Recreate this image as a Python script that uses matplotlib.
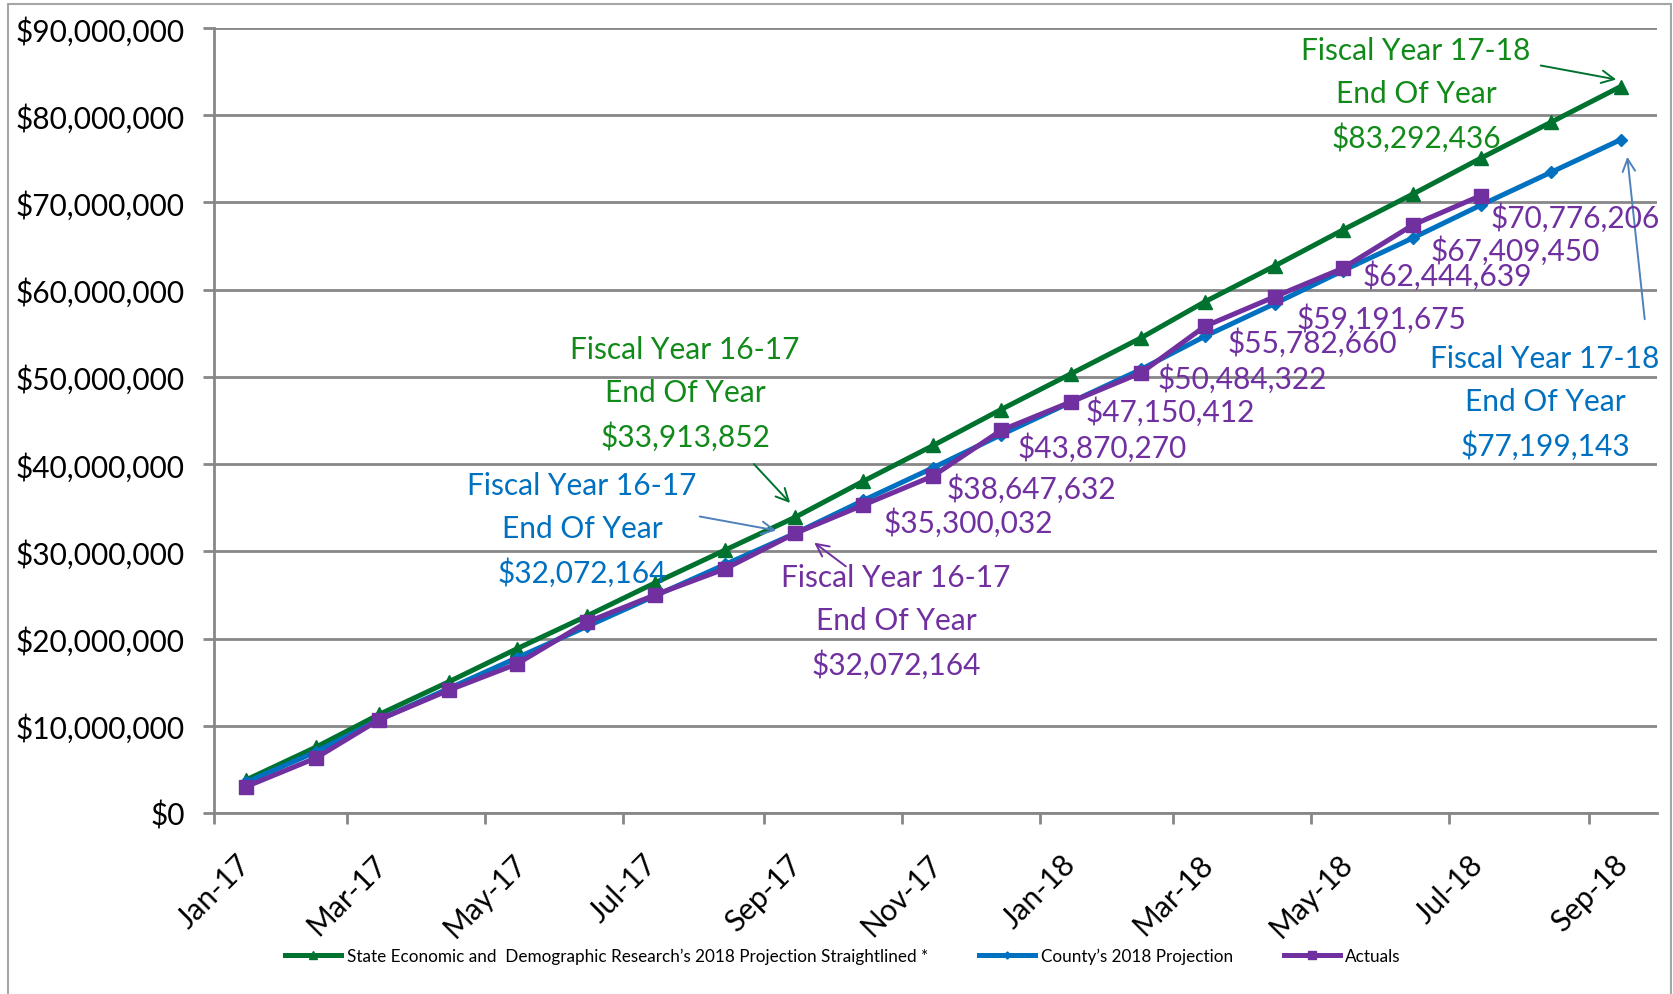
import matplotlib
matplotlib.use("Agg")
import matplotlib.pyplot as plt
import matplotlib.dates as mdates
from matplotlib.ticker import FuncFormatter
from matplotlib.patches import Rectangle
import pandas as pd

plt.rcParams['font.family'] = ['Lato', 'DejaVu Sans']

# monthly points, plotted mid-month
months = pd.date_range('2017-01-01', '2018-09-01', freq='MS') + pd.Timedelta(days=14)

state_proj = [3770000, 7540000, 11300000, 15070000, 18840000, 22610000, 26380000,
              30150000, 33913852, 38030000, 42140000, 46260000, 50370000, 54490000,
              58600000, 62720000, 66830000, 70950000, 75060000, 79180000, 83292436]
county_proj = [3500000, 7000000, 10700000, 14300000, 17800000, 21400000, 24900000,
               28500000, 32072164, 35830000, 39590000, 43360000, 47120000, 50880000,
               54640000, 58400000, 62160000, 65920000, 69680000, 73440000, 77199143]
actuals = [3000000, 6300000, 10700000, 14100000, 17100000, 21900000, 25000000,
           28000000, 32072164, 35300032, 38647632, 43870270, 47150412, 50484322,
           55782660, 59191675, 62444639, 67409450, 70776206]

legend_labels = ["State Economic and  Demographic Research\u2019s 2018 Projection Straightlined *",
                 "County\u2019s 2018 Projection",
                 "Actuals"]

GREEN = '#00722F'
BLUE = '#0070C0'
PURPLE = '#7030A0'
GRID = '#878787'
FS = 21.5

W, H = 1673, 995
fig = plt.figure(figsize=(W / 100, H / 100), dpi=100)
ax = fig.add_axes([214 / W, 1 - 814 / H, (1657 - 214) / W, (814 - 29) / H])


def px(x, y):
    # pixel position (top-left origin) -> figure fraction
    return (x / W, 1 - y / H)


# outer chart border
fig.patches.append(Rectangle(px(8, 1000), (1671 - 8) / W, (1000 - 5) / H, transform=fig.transFigure,
                             fill=False, edgecolor='#A6A6A6', linewidth=1.5))

l1, = ax.plot(months, state_proj, color=GREEN, lw=3.6, marker='^', ms=10, zorder=3,
              label=legend_labels[0])
l2, = ax.plot(months, county_proj, color=BLUE, lw=3.6, marker='D', ms=6, zorder=4,
              label=legend_labels[1])
l3, = ax.plot(months[:len(actuals)], actuals, color=PURPLE, lw=3.6, marker='s', ms=10, zorder=5,
              label=legend_labels[2])

ax.set_ylim(0, 90000000)
ax.set_xlim(pd.Timestamp('2017-01-01'), pd.Timestamp('2018-10-01'))
ax.yaxis.set_major_locator(plt.MultipleLocator(10000000))
ax.yaxis.set_major_formatter(FuncFormatter(lambda v, p: '${:,.0f}'.format(v)))
ax.xaxis.set_major_locator(mdates.MonthLocator(bymonth=[1, 3, 5, 7, 9, 11]))
ax.xaxis.set_major_formatter(mdates.DateFormatter('%b-%y'))
ax.grid(axis='y', color=GRID, lw=2)
ax.set_axisbelow(True)
for s in ['top', 'right']:
    ax.spines[s].set_visible(False)
for s in ['left', 'bottom']:
    ax.spines[s].set_color(GRID)
    ax.spines[s].set_linewidth(2)
ax.tick_params(axis='both', color=GRID, width=2, length=8, labelsize=FS)
ax.tick_params(axis='y', pad=13)
ax.tick_params(axis='x', pad=18)
plt.setp(ax.get_xticklabels(), rotation=45, ha='center')

# value labels for actuals from Oct-17 on
label_offsets = [(105, -17), (98, -12), (101, -17), (99, -9), (101, -5),
                 (108, -15), (107, -21), (105, -7), (103, -25), (95, -21)]
for i, (dx, dy) in zip(range(9, len(actuals)), label_offsets):
    ax.annotate('${:,.0f}'.format(actuals[i]), (months[i], actuals[i]), xytext=(dx, dy),
                textcoords='offset pixels', ha='center', va='center', color=PURPLE,
                fontsize=FS, annotation_clip=False, zorder=6)


# fiscal year callouts
def callout(x, y, text, color):
    fig.text(*px(x, y), text, color=color, fontsize=FS, ha='center', va='center',
             multialignment='center', linespacing=1.62)


def arrow(x0, y0, x1, y1, color):
    ax.annotate('', xy=px(x1, y1), xytext=px(x0, y0), xycoords='figure fraction',
                textcoords='figure fraction',
                arrowprops=dict(arrowstyle='->,head_length=0.9,head_width=0.45', color=color, lw=1.4))


callout(1416, 95, 'Fiscal Year 17-18\nEnd Of Year\n$83,292,436', '#118A1A')
arrow(1538, 66, 1619, 81, GREEN)
callout(1545, 403, 'Fiscal Year 17-18\nEnd Of Year\n$77,199,143', BLUE)
arrow(1645, 323, 1627, 155, '#4F81BD')
callout(685, 394, 'Fiscal Year 16-17\nEnd Of Year\n$33,913,852', '#118A1A')
arrow(752, 463, 792, 506, GREEN)
callout(582, 530, 'Fiscal Year 16-17\nEnd Of Year\n$32,072,164', BLUE)
arrow(697, 517, 779, 532, '#4F81BD')
callout(896, 622, 'Fiscal Year 16-17\nEnd Of Year\n$32,072,164', PURPLE)
arrow(848, 569, 812, 542, PURPLE)

fig.legend(handles=[l1, l2, l3], loc='center', bbox_to_anchor=px(843, 957), ncol=3,
           frameon=False, fontsize=12.3, handlelength=3.3, columnspacing=3.0,
           handletextpad=0.3, numpoints=1, markerscale=0.6)

fig.savefig('out.png', dpi=100)
